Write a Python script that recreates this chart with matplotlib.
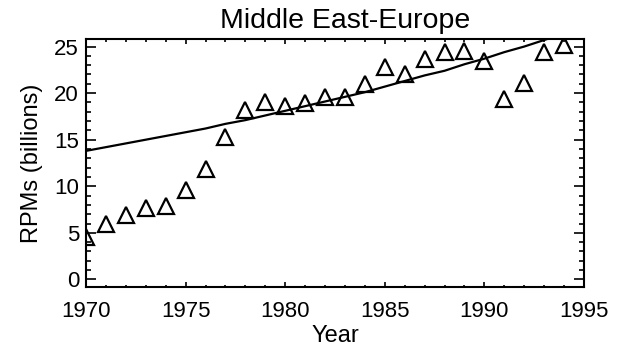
import numpy as np
import matplotlib.pyplot as plt
from matplotlib.ticker import MultipleLocator

plt.rcParams['font.family'] = ['Liberation Sans', 'DejaVu Sans']

# Middle East-Europe revenue passenger miles, billions
years = np.arange(1970, 1995)
rpms = [4.6, 6.0, 6.9, 7.7, 7.9, 9.6, 11.9, 15.3, 18.2, 19.1, 18.6, 18.9,
        19.6, 19.6, 21.0, 22.8, 22.1, 23.7, 24.4, 24.5, 23.5, 19.4, 21.1,
        24.4, 25.2]

# fitted trend curve
fit_years = np.arange(1970, 1996)
fit_rpms = [13.8, 14.2, 14.6, 15.0, 15.4, 15.8, 16.2, 16.7, 17.1, 17.6,
            18.1, 18.6, 19.1, 19.6, 20.1, 20.7, 21.3, 21.9, 22.4, 23.1,
            23.7, 24.4, 25.0, 25.7, 26.4, 27.1]

fig = plt.figure(figsize=(6.3, 3.49), dpi=100)
ax = fig.add_axes([0.1365, 0.178, 0.7905, 0.71])

ax.plot(fit_years, fit_rpms, 'k-', lw=1.6)
ax.plot(years, rpms, '^', ms=11.5, mfc='none', mec='k', mew=1.6)

ax.set_xlim(1970, 1995)
ax.set_ylim(-0.8, 25.8)
ax.xaxis.set_major_locator(MultipleLocator(5))
ax.xaxis.set_minor_locator(MultipleLocator(1))
ax.yaxis.set_major_locator(MultipleLocator(5))
ax.yaxis.set_minor_locator(MultipleLocator(1))

ax.tick_params(axis='both', which='both', direction='in', top=True, right=True,
               width=1.2, labelsize=16, colors='k')
ax.tick_params(axis='x', which='major', length=3.6, pad=10)
ax.tick_params(axis='x', which='minor', length=1.8)
ax.tick_params(axis='y', which='major', length=7.2, pad=5)
ax.tick_params(axis='y', which='minor', length=3.6)
for s in ax.spines.values():
    s.set_linewidth(1.5)

ax.set_xlabel('Year', fontsize=17, labelpad=2)
ax.set_ylabel('RPMs (billions)', fontsize=17, labelpad=8)
ax.text(0.52, 1.02, 'Middle East-Europe', transform=ax.transAxes,
        ha='center', va='bottom', fontsize=20.5)

plt.savefig('out.png', dpi=100)
